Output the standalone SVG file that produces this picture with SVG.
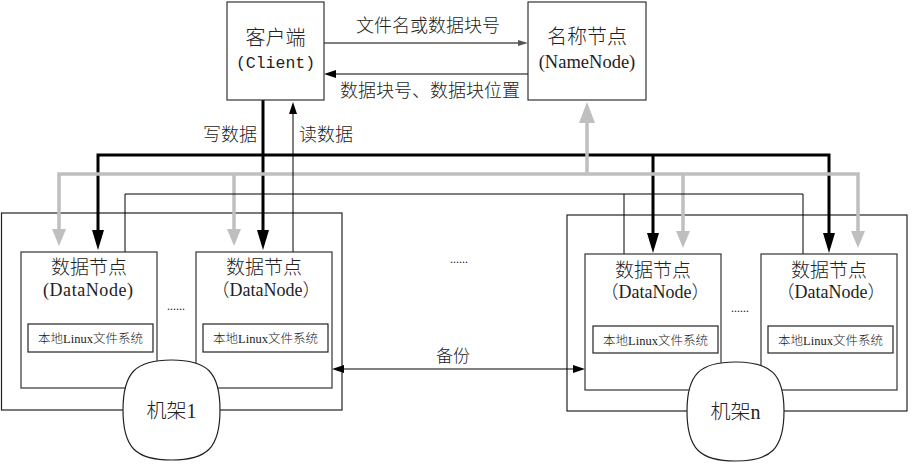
<svg xmlns="http://www.w3.org/2000/svg" width="913" height="464" viewBox="0 0 913 464">
<style>
text{font-family:"Liberation Serif","Noto Sans CJK SC",serif;fill:#222}
.box{fill:#fff;stroke:#333;stroke-width:1.2}
.rack{fill:none;stroke:#222;stroke-width:1.2}
.fs{fill:#fff;stroke:#222;stroke-width:1.2}
.thk{fill:none;stroke:#000;stroke-width:3}
.gry{fill:none;stroke:#bfbfbf;stroke-width:3.5}
.thn{fill:none;stroke:#000;stroke-width:1}
.cjk{font-family:"Noto Sans CJK SC","Liberation Serif",sans-serif;font-weight:300}
.lat{font-family:"Liberation Serif",serif}
</style>
<defs>
<marker id="ab" markerUnits="userSpaceOnUse" viewBox="0 0 20 12" refX="0" refY="6" markerWidth="20" markerHeight="12" orient="auto"><path d="M0,0L20,6L0,12z" fill="#000"/></marker>
<marker id="ag" markerUnits="userSpaceOnUse" viewBox="0 0 17 14" refX="0" refY="7" markerWidth="17" markerHeight="14" orient="auto"><path d="M0,0L17,7L0,14z" fill="#bfbfbf"/></marker>
<marker id="agb" markerUnits="userSpaceOnUse" viewBox="0 0 21 16" refX="0" refY="8" markerWidth="21" markerHeight="16" orient="auto"><path d="M0,0L21,8L0,16z" fill="#bfbfbf"/></marker>
<marker id="as" markerUnits="userSpaceOnUse" viewBox="0 0 12 8" refX="0" refY="4" markerWidth="12" markerHeight="8" orient="auto"><path d="M0,0L12,4L0,8z" fill="#000"/></marker>
<marker id="asg" markerUnits="userSpaceOnUse" viewBox="0 0 10 6" refX="0" refY="3" markerWidth="10" markerHeight="6" orient="auto"><path d="M0,0L10,3L0,6z" fill="#555"/></marker>
</defs>

<g id="rack1-frame"><rect class="rack" x="1.5" y="213" width="340.5" height="197"/></g>
<g id="rackn-frame"><rect class="rack" x="567" y="215" width="340" height="196"/></g>

<g id="connectors">
<path class="thk" d="M263,100V230" marker-end="url(#ab)"/>
<path class="thk" d="M463,155H98V230" marker-end="url(#ab)"/>
<path class="thk" d="M463,155H829V233" marker-end="url(#ab)"/>
<path class="thk" d="M653,155V233" marker-end="url(#ab)"/>
<path class="gry" d="M587,174H59V229" marker-end="url(#ag)"/>
<path class="gry" d="M587,174H858V231" marker-end="url(#ag)"/>
<path class="gry" d="M234,174V229" marker-end="url(#ag)"/>
<path class="gry" d="M683,174V231" marker-end="url(#ag)"/>
<path class="gry" d="M587,174V123" marker-end="url(#agb)"/>
<path class="thn" d="M125,252V194H803V254"/>
<path class="thn" d="M624,194V254"/>
<path class="thn" d="M293,252V114" stroke="#555" marker-end="url(#as)"/>
<path class="thn" d="M324,43H518" stroke="#555" marker-end="url(#asg)"/>
<path class="thn" d="M528,74H336" marker-end="url(#as)"/>
<path class="thn" d="M344,369H573" marker-end="url(#as)"/>
<path d="M344,365L332,369L344,373z" fill="#000"/>
</g>

<g id="client"><rect class="box" x="227" y="2" width="97" height="98"/>
<text class="cjk" x="275.5" y="45" font-size="20" text-anchor="middle">客户端</text>
<text x="275.5" y="68" font-size="16.5" text-anchor="middle" style="font-family:'Liberation Mono',monospace">(Client)</text></g>

<g id="namenode"><rect class="box" x="528" y="2" width="118" height="98"/>
<text class="cjk" x="587" y="44" font-size="20" text-anchor="middle">名称节点</text>
<text x="587" y="68" font-size="18.5" text-anchor="middle">(NameNode)</text></g>

<g id="labels">
<text class="cjk" x="428" y="32" font-size="18" text-anchor="middle">文件名或数据块号</text>
<text class="cjk" x="430" y="97" font-size="18" text-anchor="middle">数据块号、数据块位置</text>
<text class="cjk" x="257" y="141" font-size="18" text-anchor="end">写数据</text>
<text class="cjk" x="299" y="141" font-size="18">读数据</text>
<text class="cjk" x="453" y="362" font-size="17" text-anchor="middle">备份</text>
<text x="459" y="263" font-size="12" text-anchor="middle">......</text>
<text x="176" y="310" font-size="12" text-anchor="middle">......</text>
<text x="740" y="312" font-size="12" text-anchor="middle">......</text>
</g>

<g id="datanode1"><rect class="box" x="21" y="252" width="136" height="136"/>
<text class="cjk" x="89" y="274" font-size="19" text-anchor="middle">数据节点</text>
<text x="88" y="296" font-size="18" text-anchor="middle" textLength="90">(DataNode)</text>
<rect class="fs" x="28" y="324" width="125" height="28"/>
<text class="cjk" x="90.5" y="343" font-size="12.5" text-anchor="middle">本地<tspan class="lat">Linux</tspan>文件系统</text></g>

<g id="datanode2"><rect class="box" x="196" y="252" width="136" height="136"/>
<text class="cjk" x="264" y="274" font-size="19" text-anchor="middle">数据节点</text>
<text class="cjk" x="266" y="296" font-size="18" text-anchor="middle">（<tspan class="lat">DataNode</tspan>）</text>
<rect class="fs" x="203" y="324" width="125" height="28"/>
<text class="cjk" x="265.5" y="343" font-size="12.5" text-anchor="middle">本地<tspan class="lat">Linux</tspan>文件系统</text></g>

<g id="datanode3"><rect class="box" x="585" y="254" width="136" height="136"/>
<text class="cjk" x="653" y="277" font-size="19" text-anchor="middle">数据节点</text>
<text class="cjk" x="655" y="298" font-size="18" text-anchor="middle">（<tspan class="lat">DataNode</tspan>）</text>
<rect class="fs" x="593" y="326" width="125" height="27"/>
<text class="cjk" x="655.5" y="345" font-size="12.5" text-anchor="middle">本地<tspan class="lat">Linux</tspan>文件系统</text></g>

<g id="datanode4"><rect class="box" x="761" y="254" width="136" height="136"/>
<text class="cjk" x="829" y="277" font-size="19" text-anchor="middle">数据节点</text>
<text class="cjk" x="831" y="298" font-size="18" text-anchor="middle">（<tspan class="lat">DataNode</tspan>）</text>
<rect class="fs" x="768" y="326" width="125" height="27"/>
<text class="cjk" x="830.5" y="345" font-size="12.5" text-anchor="middle">本地<tspan class="lat">Linux</tspan>文件系统</text></g>

<g id="rack1"><path d="M123,410C123,372 136,360 171.5,360C207,360 220,372 220,410C220,448 207,460 171.5,460C136,460 123,448 123,410Z" fill="#fff" stroke="#222" stroke-width="1.2"/>
<text class="cjk" x="171.5" y="418" font-size="20" text-anchor="middle">机架<tspan class="lat">1</tspan></text></g>

<g id="rackn"><path d="M687,411C687,374 700,362 735.5,362C771,362 784,374 784,411C784,449 771,461 735.5,461C700,461 687,449 687,411Z" fill="#fff" stroke="#222" stroke-width="1.2"/>
<text class="cjk" x="735.5" y="419" font-size="20" text-anchor="middle">机架<tspan class="lat">n</tspan></text></g>
</svg>
